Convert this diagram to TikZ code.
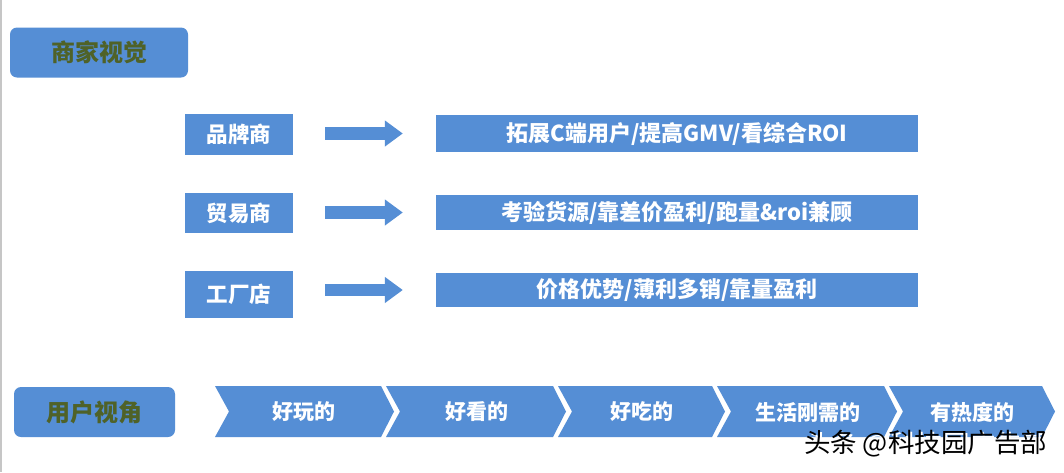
\documentclass[tikz,border=0pt]{standalone}
\usepackage{fontspec}
\newfontfamily\cjk{Noto Sans CJK SC}
\usetikzlibrary{arrows.meta,calc}
\definecolor{pblue}{HTML}{558ED5}
\definecolor{olive}{HTML}{4F6228}
\tikzset{
  titlebox/.style={fill=pblue, rounded corners=7pt, inner sep=0pt, text=olive,
    font=\cjk\bfseries\fontsize{24}{27}\selectfont},
  leftbox/.style={fill=pblue, inner sep=0pt, minimum width=108pt, text=white,
    font=\cjk\bfseries\fontsize{21.5}{24}\selectfont},
  rightbox/.style={fill=pblue, inner sep=0pt, minimum width=482pt, text=white,
    font=\cjk\bfseries\fontsize{22}{24}\selectfont},
  barrow/.style={pblue, line width=12.5pt, -{Triangle[length=18pt,width=25pt]}},
  chevfill/.style={fill=pblue},
  chevtext/.style={text=white, inner sep=0pt, font=\cjk\bfseries\fontsize{21}{24}\selectfont},
  wmtext/.style={inner sep=0pt, font=\cjk\fontsize{26.5}{29}\selectfont}
}
\newcommand\chevshape[2]{%
  \fill[chevfill] (#1,386) -- (#2,386) -- ({#2+13},411.5) -- (#2,437) -- (#1,437) -- ({#1+14},411.5) -- cycle;}
\begin{document}
\begin{tikzpicture}[x=1pt,y=-1pt]
\useasboundingbox[fill=white] (0,0) rectangle (1064,472);
\draw[gray!45, line width=1.5pt] (0.75,0) -- (0.75,472);

% merchant view
\node[titlebox, minimum width=178pt, minimum height=50pt] (t1) at (99,52.5) {商家视觉};

\node[leftbox, minimum height=41pt] (brand) at (239,134.5) {品牌商};
\node[leftbox, minimum height=40pt] (trade) at (239,213) {贸易商};
\node[leftbox, minimum height=47pt] (fact) at (239,294) {工厂店};

\node[rightbox, minimum height=37pt] (r1) at (677,133.5) {拓展C端用户/提高GMV/看综合ROI};
\node[rightbox, minimum height=35pt] (r2) at (677,212.5) {考验货源/靠差价盈利/跑量\&roi兼顾};
\node[rightbox, minimum height=34pt] (r3) at (677,290) {价格优势/薄利多销/靠量盈利};

\draw[barrow] ($(brand.east |- r1.west)+(32,0)$) -- ($(r1.west)+(-33,0)$);
\draw[barrow] ($(trade.east |- r2.west)+(32,0)$) -- ($(r2.west)+(-33,0)$);
\draw[barrow] ($(fact.east |- r3.west)+(32,0)$) -- ($(r3.west)+(-33,0)$);

% user view
\node[titlebox, minimum width=161pt, minimum height=50pt] (t2) at (94.5,412) {用户视角};

\chevshape{215}{381}
\chevshape{386}{553}
\chevshape{558}{712}
\chevshape{717}{884}
\chevshape{889}{1042}
\node[chevtext] (c1) at (304,412) {好玩的};
\node[chevtext] (c2) at (476.5,412) {好看的};
\node[chevtext] (c3) at (641.5,412) {好吃的};
\node[chevtext] (c4) at (807.5,412) {生活刚需的};
\node[chevtext] (c5) at (972.5,412) {有热度的};

% watermark
\node[wmtext, text=white] (wms) at (927.5,446) {头条 @科技园广告部};
\node[wmtext, text=black] (wm) at (925.5,444) {头条 @科技园广告部};
\end{tikzpicture}
\end{document}
